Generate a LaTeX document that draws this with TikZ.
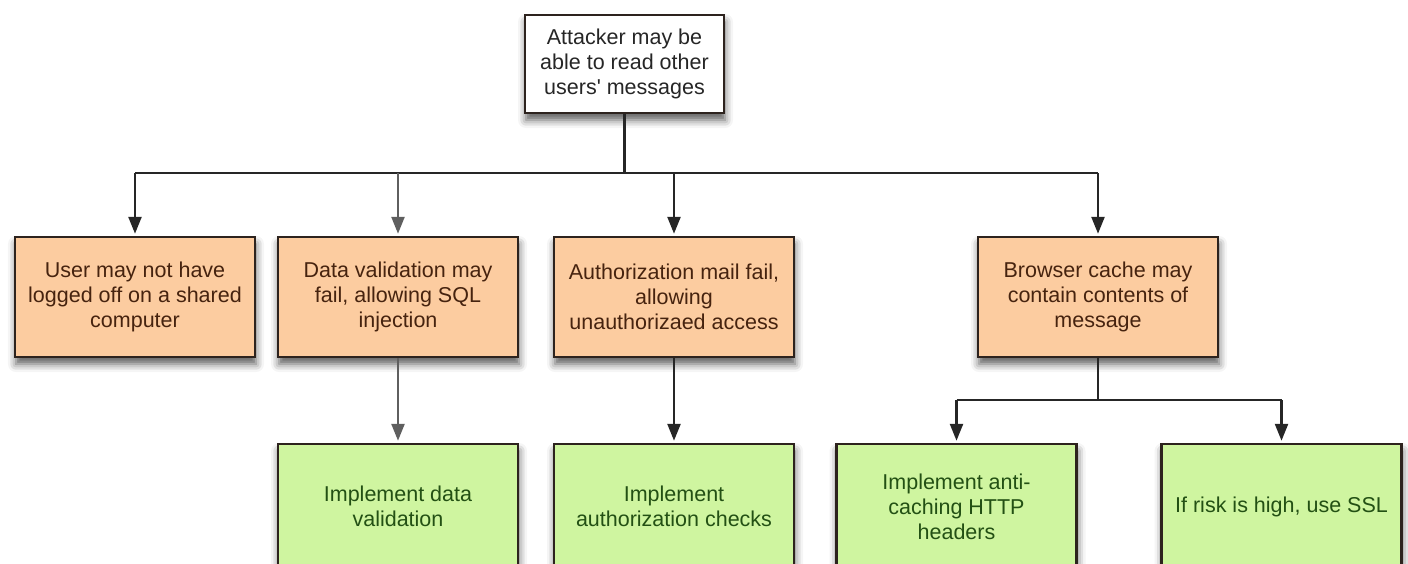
\documentclass[tikz,border=0pt]{standalone}
\usepackage{fontspec}
\setmainfont{Liberation Sans}
\usetikzlibrary{arrows.meta,shadows.blur}

\definecolor{threatfill}{RGB}{252,204,160}
\definecolor{threattext}{RGB}{70,35,15}
\definecolor{fixfill}{RGB}{207,245,160}
\definecolor{fixtext}{RGB}{35,80,20}
\definecolor{boxline}{RGB}{45,35,30}
\definecolor{greyline}{RGB}{95,95,95}

\tikzset{
  box/.style={draw=boxline, line width=2.5pt, align=center,
    font=\fontsize{21.5}{25}\selectfont,
    blur shadow={shadow xshift=1pt, shadow yshift=-7pt, shadow blur radius=8pt, shadow opacity=65}},
  goal/.style={box, fill=white, text=black!85},
  threat/.style={box, fill=threatfill, text=threattext},
  fix/.style={box, fill=fixfill, text=fixtext},
  link/.style={line width=2.5pt, black!85},
  linkarrow/.style={link, -{Triangle[width=13pt,length=17pt]}, shorten >=2pt},
}

\begin{document}
\begin{tikzpicture}[x=1pt,y=-1pt]
  \useasboundingbox (0,0) rectangle (1408,563);
  \clip (0,0) rectangle (1408,563);

  % root goal
  \node[goal, minimum width=199pt, minimum height=98pt] (root) at (624.5,64)
    {Attacker may be\\able to read other\\users\textquotesingle\ messages};

  % threats
  \node[threat, minimum width=240pt, minimum height=120pt] (t1) at (135,297)
    {User may not have\\logged off on a shared\\computer};
  \node[threat, minimum width=240pt, minimum height=120pt] (t2) at (398,297)
    {Data validation may\\fail, allowing SQL\\injection};
  \node[threat, minimum width=240pt, minimum height=120pt] (t3) at (674,297)
    {Authorization mail fail,\\allowing\\unauthorizaed access};
  \node[threat, minimum width=240pt, minimum height=120pt] (t4) at (1098,297)
    {Browser cache may\\contain contents of\\message};

  % countermeasures
  \node[fix, minimum width=240pt, minimum height=125pt] (c1) at (398,506.5)
    {Implement data\\validation};
  \node[fix, minimum width=240pt, minimum height=125pt] (c2) at (674,506.5)
    {Implement\\authorization checks};
  \node[fix, minimum width=240pt, minimum height=125pt] (c3) at (956.5,506.5)
    {Implement anti-\\caching HTTP\\headers};
  \node[fix, minimum width=240pt, minimum height=125pt] (c4) at (1281.5,506.5)
    {If risk is high, use SSL};

  % root to threats
  \coordinate (bus) at (624.5,173);
  \draw[link] (root.south) -- (bus);
  \draw[link] (t1.north |- bus) -- (t4.north |- bus);
  \draw[linkarrow] (t1.north |- bus) -- (t1.north);
  \draw[linkarrow, greyline] (t2.north |- bus) -- (t2.north);
  \draw[linkarrow] (t3.north |- bus) -- (t3.north);
  \draw[linkarrow] (t4.north |- bus) -- (t4.north);

  % threats to countermeasures
  \draw[linkarrow, greyline] (t2.south) -- (c1.north);
  \draw[linkarrow] (t3.south) -- (c2.north);
  \coordinate (split) at (1098,400);
  \draw[link] (t4.south) -- (split);
  \draw[link] (c3.north |- split) -- (c4.north |- split);
  \draw[linkarrow] (c3.north |- split) -- (c3.north);
  \draw[linkarrow] (c4.north |- split) -- (c4.north);
\end{tikzpicture}
\end{document}
